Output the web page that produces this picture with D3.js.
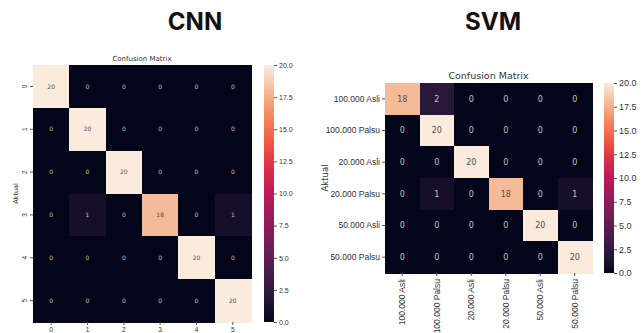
<!DOCTYPE html>
<html>
<head>
<meta charset="utf-8">
<script src="https://cdn.jsdelivr.net/npm/d3@7"></script>
<style>
  body { margin: 0; background: #fff; }
  svg { display: block; font-family: "DejaVu Sans", sans-serif; }
  .heading { font-family: Inter, "Open Sans", sans-serif; font-weight: 700; font-size: 24px; fill: #111; }
  .domain { display: none; }
</style>
</head>
<body>
<div id="chart"></div>
<script>
// data
var cnnLabels = ["0", "1", "2", "3", "4", "5"];
var cnnMatrix = [
  [20, 0, 0, 0, 0, 0],
  [0, 20, 0, 0, 0, 0],
  [0, 0, 20, 0, 0, 0],
  [0, 1, 0, 18, 0, 1],
  [0, 0, 0, 0, 20, 0],
  [0, 0, 0, 0, 0, 20]
];
var svmLabels = ["100.000 Asli", "100.000 Palsu", "20.000 Asli", "20.000 Palsu", "50.000 Asli", "50.000 Palsu"];
var svmMatrix = [
  [18, 2, 0, 0, 0, 0],
  [0, 20, 0, 0, 0, 0],
  [0, 0, 20, 0, 0, 0],
  [0, 1, 0, 18, 0, 1],
  [0, 0, 0, 0, 20, 0],
  [0, 0, 0, 0, 0, 20]
];
var colorTicks = [0, 2.5, 5, 7.5, 10, 12.5, 15, 17.5, 20];

// approx seaborn "rocket"
var rocket = d3.piecewise(d3.interpolateRgb, [
  "#03051a", "#2a1838", "#4a1c4c", "#711f57", "#961b5a",
  "#bc1a55", "#dc2e46", "#ee5a42", "#f4875f", "#f5bb98", "#faebdd"
]);
var color = d3.scaleSequential(rocket).domain([0, 20]);

var svg = d3.select("#chart").append("svg")
  .attr("width", 641)
  .attr("height", 333);

var defs = svg.append("defs");
var grad = defs.append("linearGradient")
  .attr("id", "cbar")
  .attr("x1", 0).attr("y1", 1).attr("x2", 0).attr("y2", 0);
d3.range(0, 1.0001, 0.05).forEach(function(t) {
  grad.append("stop").attr("offset", t).attr("stop-color", rocket(t));
});

function drawMatrix(o) {
  var g = svg.append("g");

  g.append("text").attr("class", "heading")
    .attr("x", o.headX).attr("y", 30)
    .attr("text-anchor", "middle")
    .text(o.heading);

  var x = d3.scaleBand().domain(d3.range(6)).range([o.left, o.right]);
  var y = d3.scaleBand().domain(d3.range(6)).range([o.top, o.bottom]);

  var cells = [];
  o.matrix.forEach(function(row, i) {
    row.forEach(function(v, j) { cells.push({ i: i, j: j, v: v }); });
  });

  g.selectAll("rect.cell").data(cells).enter().append("rect")
    .attr("class", "cell")
    .attr("x", function(d) { return x(d.j); })
    .attr("y", function(d) { return y(d.i); })
    .attr("width", x.bandwidth() + 0.5)
    .attr("height", y.bandwidth() + 0.5)
    .attr("shape-rendering", "crispEdges")
    .attr("fill", function(d) { return color(d.v); });

  g.selectAll("text.val").data(cells).enter().append("text")
    .attr("x", function(d) { return x(d.j) + x.bandwidth() / 2; })
    .attr("y", function(d) { return y(d.i) + y.bandwidth() / 2; })
    .attr("dy", "0.35em")
    .attr("text-anchor", "middle")
    .style("font-size", o.cellFont + "px")
    .attr("fill", function(d) { return d.v > 10 ? "#5a4a48" : "#c4c4c4"; })
    .text(function(d) { return d.v; });

  g.append("text")
    .attr("x", (o.left + o.right) / 2).attr("y", o.top - 4)
    .attr("text-anchor", "middle")
    .style("font-size", o.titleFont + "px")
    .attr("fill", "#333")
    .text("Confusion Matrix");

  // axes
  var xAxis = g.append("g")
    .attr("transform", "translate(0," + o.bottom + ")")
    .call(d3.axisBottom(x).tickSize(3).tickPadding(2).tickFormat(function(d) { return o.labels[d]; }));
  var yAxis = g.append("g")
    .attr("transform", "translate(" + o.left + ",0)")
    .call(d3.axisLeft(y).tickSize(3).tickPadding(2).tickFormat(function(d) { return o.labels[d]; }));
  [xAxis, yAxis].forEach(function(a) {
    a.selectAll("text").style("font-size", o.tickFont + "px").attr("fill", "#333");
    a.selectAll("line").attr("stroke", "#555");
  });

  if (o.rotateX) {
    xAxis.selectAll("text")
      .attr("transform", "rotate(-90)")
      .attr("text-anchor", "end")
      .attr("x", -6).attr("y", 0).attr("dy", "0.35em");
  }
  if (o.rotateY) {
    yAxis.selectAll("text")
      .attr("transform", "rotate(-90)")
      .attr("text-anchor", "middle")
      .attr("x", 0).attr("y", -6).attr("dy", 0);
  }

  g.append("text")
    .attr("transform", "translate(" + o.ylabelX + "," + ((o.top + o.bottom) / 2) + ") rotate(-90)")
    .attr("text-anchor", "middle")
    .style("font-size", o.tickFont + "px")
    .attr("fill", "#333")
    .text("Aktual");

  // colorbar
  var cy = d3.scaleLinear().domain([0, 20]).range([o.bottom, o.top]);
  g.append("rect")
    .attr("x", o.cbarX).attr("y", o.top)
    .attr("width", o.cbarW).attr("height", o.bottom - o.top)
    .attr("fill", "url(#cbar)");
  var cAxis = g.append("g")
    .attr("transform", "translate(" + (o.cbarX + o.cbarW) + ",0)")
    .call(d3.axisRight(cy).tickValues(colorTicks).tickSize(3).tickPadding(2).tickFormat(d3.format(".1f")));
  cAxis.selectAll("text").style("font-size", o.cbarFont + "px").attr("fill", "#333");
  cAxis.selectAll("line").attr("stroke", "#555");
}

drawMatrix({
  heading: "CNN", headX: 195,
  matrix: cnnMatrix, labels: cnnLabels,
  left: 33, right: 251, top: 65, bottom: 322,
  cellFont: 6, tickFont: 6.5, titleFont: 7, cbarFont: 7,
  rotateX: false, rotateY: true, ylabelX: 18,
  cbarX: 264, cbarW: 10
});

drawMatrix({
  heading: "SVM", headX: 493,
  matrix: svmMatrix, labels: svmLabels,
  left: 385, right: 592, top: 83, bottom: 273,
  cellFont: 8, tickFont: 8.5, titleFont: 9.5, cbarFont: 9,
  rotateX: true, rotateY: false, ylabelX: 328,
  cbarX: 604, cbarW: 10
});
</script>
</body>
</html>
